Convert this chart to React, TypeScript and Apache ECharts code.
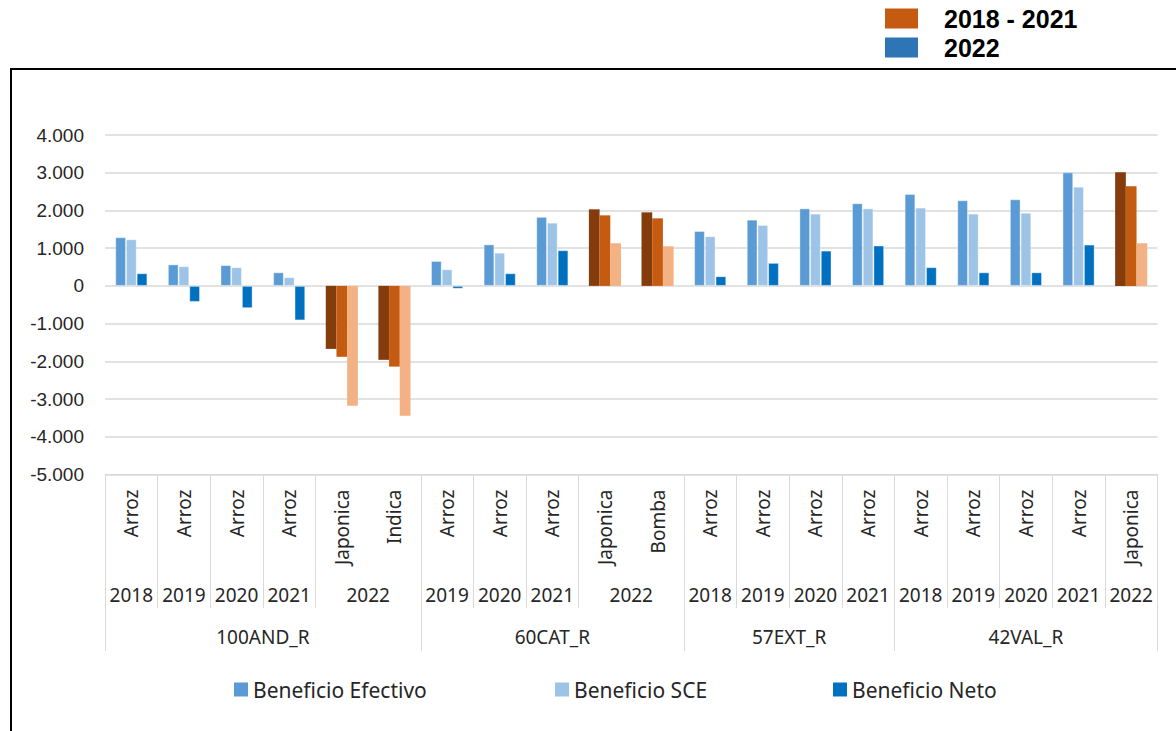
import React, { useEffect, useRef } from "react";
import * as echarts from "echarts";

const varieties = ["Arroz", "Arroz", "Arroz", "Arroz", "Japonica", "Indica", "Arroz", "Arroz", "Arroz", "Japonica", "Bomba", "Arroz", "Arroz", "Arroz", "Arroz", "Arroz", "Arroz", "Arroz", "Arroz", "Japonica"];
const years = ["2018", "2019", "2020", "2021", "2022", "2022", "2019", "2020", "2021", "2022", "2022", "2018", "2019", "2020", "2021", "2018", "2019", "2020", "2021", "2022"];
const regions = ["100AND_R", "100AND_R", "100AND_R", "100AND_R", "100AND_R", "100AND_R", "60CAT_R", "60CAT_R", "60CAT_R", "60CAT_R", "60CAT_R", "57EXT_R", "57EXT_R", "57EXT_R", "57EXT_R", "42VAL_R", "42VAL_R", "42VAL_R", "42VAL_R", "42VAL_R"];

const efectivo = [1290, 570, 550, 360, -1670, -1960, 660, 1100, 1830, 2030, 1950, 1455, 1755, 2055, 2190, 2435, 2270, 2295, 3010, 3010];
const sce = [1235, 520, 495, 230, -1880, -2140, 440, 880, 1675, 1870, 1790, 1315, 1615, 1915, 2055, 2075, 1915, 1940, 2630, 2640];
const neto = [335, -425, -590, -915, -3175, -3440, -75, 335, 945, 1130, 1050, 255, 610, 935, 1070, 495, 360, 360, 1095, 1130];

const seriesNames = ["Beneficio Efectivo", "Beneficio SCE", "Beneficio Neto"];
const seriesColors = ["#5B9BD5", "#9DC3E6", "#0070C0"];
const colors2022 = ["#843C0C", "#C55A11", "#F4B183"];
const periodNames = ["2018 - 2021", "2022"];
const periodColors = ["#C55A11", "#2E75B6"];
const highlightYear = "2022";

type Group = { start: number; end: number; label: string };
function makeGroups(keys: string[], labels: string[]): Group[] {
  const out: Group[] = [];
  keys.forEach((k, i) => {
    const last = out[out.length - 1];
    if (last && keys[last.start] === k) last.end = i + 1;
    else out.push({ start: i, end: i + 1, label: labels[i] });
  });
  return out;
}

function fmt(v: number) {
  const s = String(Math.abs(v)).replace(/\B(?=(\d{3})+(?!\d))/g, ".");
  return (v < 0 ? "-" : "") + s;
}

const TXT = "#262626";
const LINE = "#D9D9D9";
const FONT = "Noto Sans";

export default function App() {
  const ref = useRef<HTMLDivElement>(null);
  useEffect(() => {
    if (!ref.current) return;
    const chart = echarts.init(ref.current, null, { renderer: "svg" });
    const n = varieties.length;
    const yearGroups = makeGroups(regions.map((r, i) => r + "|" + years[i]), years);
    const regionGroups = makeGroups(regions, regions);

    // half-step points 0, 0.5, 1, ..., n on a category axis without boundary gap
    const halfPoints = Array.from({ length: 2 * n + 1 }, (_, k) => "p" + k);

    const hierAxis = (groups: Group[], tickLen: number, margin: number) => {
      const ticks = new Set<number>();
      const labels: Record<number, string> = {};
      groups.forEach((g) => {
        ticks.add(2 * g.start);
        ticks.add(2 * g.end);
        labels[g.start + g.end] = g.label;
      });
      return {
        type: "category",
        data: halfPoints,
        boundaryGap: false,
        position: "bottom",
        axisLine: { show: false, onZero: false },
        splitLine: { show: false },
        axisTick: {
          show: true,
          interval: (idx: number) => ticks.has(idx),
          length: tickLen,
          lineStyle: { color: LINE, width: 1 },
        },
        axisLabel: {
          interval: (idx: number) => labels[idx] !== undefined,
          formatter: (_v: string, idx: number) => labels[idx] ?? "",
          margin,
          fontFamily: FONT,
          fontSize: 19,
          color: TXT,
        },
      };
    };

    const values = [efectivo, sce, neto];
    const barSeries = values.map((arr, si) => ({
      name: seriesNames[si],
      type: "bar",
      xAxisIndex: 0,
      yAxisIndex: 0,
      barGap: "0%",
      barCategoryGap: "39%",
      itemStyle: { color: seriesColors[si], borderColor: "rgba(255,255,255,0.35)", borderWidth: 1 },
      data: arr.map((v, i) =>
        years[i] === highlightYear
          ? { value: v, itemStyle: { color: colors2022[si], borderWidth: 0 } }
          : v
      ),
    }));
    const dummySeries = periodNames.map((name, i) => ({
      name,
      type: "line",
      xAxisIndex: 0,
      yAxisIndex: 0,
      data: [],
      itemStyle: { color: periodColors[i] },
      lineStyle: { color: periodColors[i] },
    }));

    const bottomLegendLeft = [234, 555, 833];
    const legends: any[] = seriesNames.map((name, i) => ({
      data: [name],
      left: bottomLegendLeft[i],
      top: 679,
      padding: 0,
      icon: "rect",
      itemWidth: 14,
      itemHeight: 14,
      selectedMode: false,
      itemStyle: { borderWidth: 0 },
      textStyle: { fontFamily: FONT, fontSize: 21, color: TXT },
    }));
    const topLegendTop = [6, 35];
    periodNames.forEach((name, i) => {
      legends.push({
        data: [name],
        left: 885,
        top: topLegendTop[i],
        padding: 0,
        icon: "rect",
        itemWidth: 33,
        itemHeight: 20,
        selectedMode: false,
        textStyle: {
          fontFamily: "Liberation Sans",
          fontWeight: "bold",
          fontSize: 25,
          color: "#000",
          padding: [0, 0, 0, 21],
        },
      });
    });

    chart.setOption({
      animation: false,
      backgroundColor: "#fff",
      grid: { left: 105, right: 18.5, top: 135, bottom: 256.5, outerBoundsMode: "none" },
      legend: legends,
      xAxis: [
        {
          type: "category",
          data: varieties,
          position: "bottom",
          axisLine: { onZero: false, lineStyle: { color: LINE, width: 1 } },
          axisTick: { show: false },
          splitLine: { show: false },
          axisLabel: {
            rotate: 90,
            margin: 15,
            interval: 0,
            fontFamily: FONT,
            fontSize: 19,
            color: TXT,
          },
        },
        hierAxis(yearGroups, 133.5, 111),
        hierAxis(regionGroups, 176.5, 153),
      ],
      yAxis: {
        type: "value",
        min: -5000,
        max: 4000,
        interval: 1000,
        axisLine: { show: false },
        axisTick: { show: false },
        splitLine: { lineStyle: { color: LINE, width: 1.5 } },
        axisLabel: {
          margin: 21,
          fontFamily: "Liberation Sans",
          fontSize: 19,
          color: TXT,
          formatter: (v: number) => fmt(v),
        },
      },
      graphic: [
        {
          type: "rect",
          shape: { x: 11, y: 69, width: 1300, height: 900 },
          style: { fill: "none", stroke: "#000", lineWidth: 2 },
          silent: true,
        },
      ],
      series: [...barSeries, ...dummySeries],
    });
    return () => chart.dispose();
  }, []);
  return (
    <div
      ref={ref}
      style={{ position: "fixed", left: 0, top: 0, width: 1176, height: 731 }}
    />
  );
}
